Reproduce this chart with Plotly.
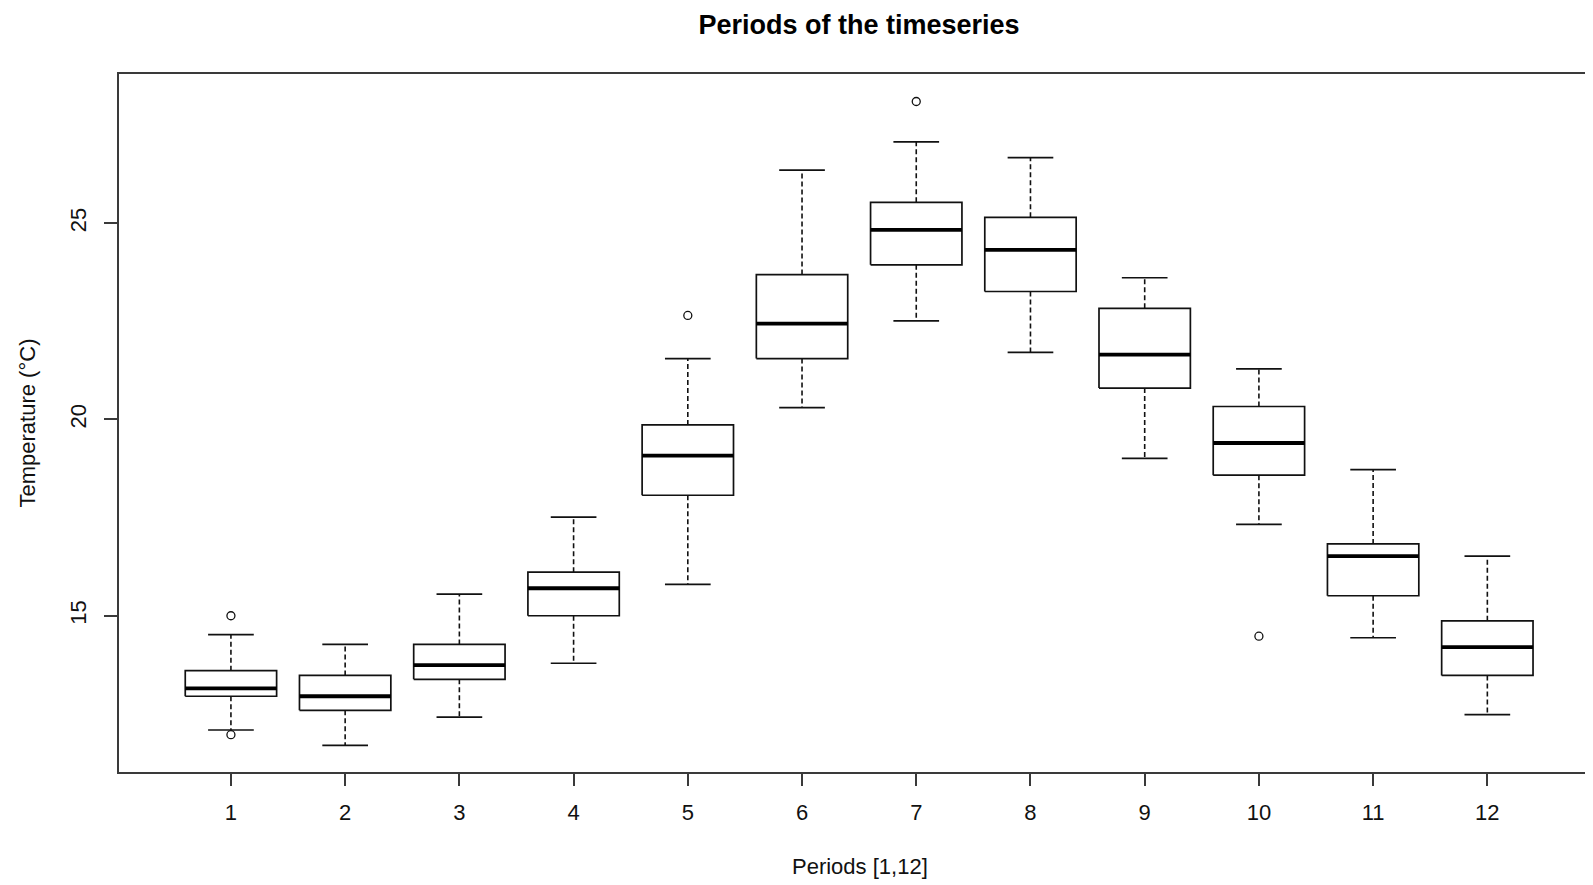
import plotly.graph_objects as go

# ---- data ----
periods = [1, 2, 3, 4, 5, 6, 7, 8, 9, 10, 11, 12]
q1 = [12.95, 12.59, 13.38, 15.00, 18.07, 21.55, 23.94, 23.26, 20.80, 18.58, 15.51, 13.48]
medians = [13.15, 12.95, 13.74, 15.70, 19.08, 22.44, 24.83, 24.32, 21.65, 19.40, 16.52, 14.20]
q3 = [13.60, 13.48, 14.27, 16.11, 19.86, 23.69, 25.53, 25.15, 22.83, 20.33, 16.83, 14.87]
lower_whisker = [12.09, 11.70, 12.42, 13.79, 15.80, 20.30, 22.51, 21.71, 19.01, 17.33, 14.44, 12.48]
upper_whisker = [14.52, 14.27, 15.55, 17.51, 21.55, 26.35, 27.07, 26.67, 23.61, 21.29, 18.72, 16.52]
outlier_period = [1, 1, 5, 7, 10]
outlier_value = [15.00, 11.97, 22.65, 28.10, 14.48]
y_ticks = [15, 20, 25]

BOX_HALF = 0.4
CAP_HALF = 0.2
FONT = "Liberation Sans, Arial, sans-serif"
INK = "#111111"
AXIS = "#3a3a3a"

wx, wy, cx, cy, bx, by, mx, my = [], [], [], [], [], [], [], []
for p, a, m, b, lo, hi in zip(periods, q1, medians, q3, lower_whisker, upper_whisker):
    wx += [p, p, None, p, p, None]
    wy += [b, hi, None, a, lo, None]
    cx += [p - CAP_HALF, p + CAP_HALF, None, p - CAP_HALF, p + CAP_HALF, None]
    cy += [hi, hi, None, lo, lo, None]
    bx += [p - BOX_HALF, p + BOX_HALF, p + BOX_HALF, p - BOX_HALF, p - BOX_HALF, None]
    by += [a, a, b, b, a, None]
    mx += [p - BOX_HALF, p + BOX_HALF, None]
    my += [m, m, None]

fig = go.Figure()
fig.add_trace(go.Scatter(x=wx, y=wy, mode="lines", line=dict(color=INK, width=1.6, dash="5px,3px"),
                         hoverinfo="skip", showlegend=False))
fig.add_trace(go.Scatter(x=cx, y=cy, mode="lines", line=dict(color=INK, width=1.7),
                         hoverinfo="skip", showlegend=False))
fig.add_trace(go.Scatter(x=bx, y=by, mode="lines", line=dict(color=INK, width=1.7),
                         hoverinfo="skip", showlegend=False))
fig.add_trace(go.Scatter(x=mx, y=my, mode="lines", line=dict(color="#000000", width=3.8),
                         hoverinfo="skip", showlegend=False))
fig.add_trace(go.Scatter(x=outlier_period, y=outlier_value, mode="markers",
                         marker=dict(symbol="circle-open", size=8, color=INK, line=dict(width=1.3)),
                         showlegend=False))

# page body has an 8px margin; the plot area must sit at page x 119..1593, y 73..772
fig.update_layout(
    width=1593, height=885,
    margin=dict(l=111, r=8, t=66, b=121, pad=0),
    paper_bgcolor="white", plot_bgcolor="white",
    font=dict(family=FONT, size=22, color="#111111"),
    title=dict(text="<b>Periods of the timeseries</b>", xref="container", yref="container",
               x=851 / 1593, y=1 - 16.5 / 885, xanchor="center", yanchor="middle",
               font=dict(family=FONT, size=27, color="#000000")),
    xaxis=dict(range=[0.02, 12.925], tickvals=periods, ticktext=[str(p) for p in periods],
               showgrid=False, zeroline=False, showline=True, linecolor=AXIS, linewidth=1.8,
               mirror=True, ticks="outside", ticklen=12, tickwidth=1.7, tickcolor=AXIS,
               ticklabelstandoff=8),
    yaxis=dict(range=[11.02, 28.80], tickvals=y_ticks, ticktext=[str(v) for v in y_ticks],
               showgrid=False, zeroline=False, showline=True, linecolor=AXIS, linewidth=1.8,
               mirror=False, ticks="outside", ticklen=13, tickwidth=1.7, tickcolor=AXIS,
               tickangle=-90, ticklabelstandoff=9),
    annotations=[
        dict(text="Periods [1,12]", xref="paper", yref="paper", x=(859.5 - 119) / 1474,
             y=-(866.5 - 772) / 698, xanchor="center", yanchor="middle", showarrow=False,
             font=dict(family=FONT, size=22)),
        dict(text="Temperature (°C)", xref="paper", yref="paper", x=-(119 - 26.5) / 1474,
             y=0.5, xanchor="center", yanchor="middle", textangle=-90, showarrow=False,
             font=dict(family=FONT, size=22)),
    ],
)

fig.write_html("out.html")
